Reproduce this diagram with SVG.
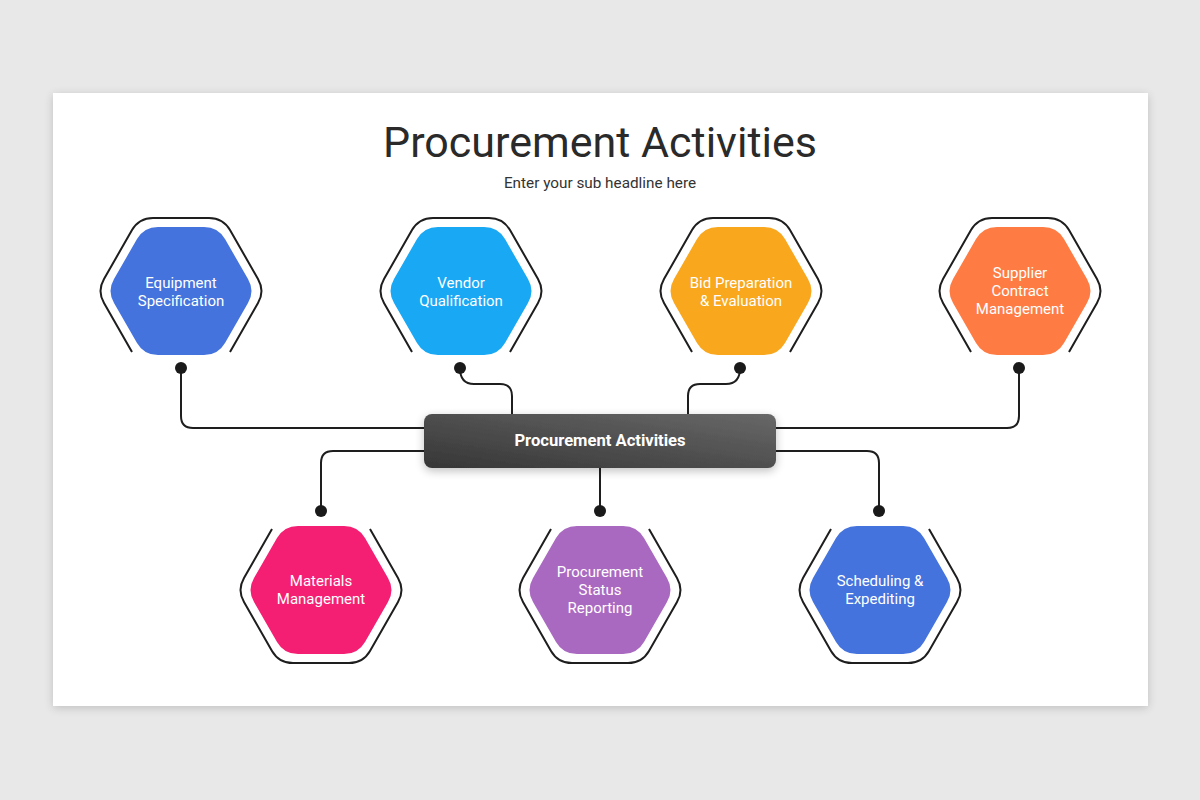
<svg xmlns="http://www.w3.org/2000/svg" width="1200" height="800" viewBox="0 0 1200 800">
  <defs>
    <filter id="cardShadow" x="-5%" y="-5%" width="110%" height="115%">
      <feGaussianBlur in="SourceAlpha" stdDeviation="5"/>
      <feOffset dy="2"/>
      <feComponentTransfer><feFuncA type="linear" slope="0.18"/></feComponentTransfer>
      <feMerge><feMergeNode/><feMergeNode in="SourceGraphic"/></feMerge>
    </filter>
    <filter id="boxShadow" x="-10%" y="-40%" width="120%" height="180%">
      <feGaussianBlur in="SourceAlpha" stdDeviation="5"/>
      <feOffset dy="3"/>
      <feComponentTransfer><feFuncA type="linear" slope="0.25"/></feComponentTransfer>
      <feMerge><feMergeNode/><feMergeNode in="SourceGraphic"/></feMerge>
    </filter>
    <linearGradient id="boxGrad" x1="0" y1="1" x2="1" y2="0">
      <stop offset="0" stop-color="#363636"/>
      <stop offset="1" stop-color="#686868"/>
    </linearGradient>
    <path id="hexFill" d="M -67 -12.1 L -44 -51.9 Q -37 -64 -23 -64 L 23 -64 Q 37 -64 44 -51.9 L 67 -12.1 Q 74 0 67 12.1 L 44 51.9 Q 37 64 23 64 L -23 64 Q -37 64 -44 51.9 L -67 12.1 Q -74 0 -67 -12.1 Z"/>
    <path id="hexTop" d="M -49 61 L -77 12.1 Q -84 0 -77 -12.1 L -49 -60.9 Q -42 -73 -28 -73 L 28 -73 Q 42 -73 49 -60.9 L 77 -12.1 Q 84 0 77 12.1 L 49 61"/>
    <path id="hexBot" d="M -49 -61 L -77 -12.1 Q -84 0 -77 12.1 L -49 60.9 Q -42 73 -28 73 L 28 73 Q 42 73 49 60.9 L 77 12.1 Q 84 0 77 -12.1 L 49 -61"/>
  </defs>
  <style>
    .outline { fill: none; stroke: #1e1e1e; stroke-width: 2; }
    .conn { fill: none; stroke: #1e1e1e; stroke-width: 2; }
    .dot { fill: #1a1a1a; }
    .lbl { font-family: Roboto, "Liberation Sans", sans-serif; font-size: 15px; fill: #ffffff; text-anchor: middle; }
    .title { font-family: Roboto, "Liberation Sans", sans-serif; font-size: 43px; fill: #2a2a2a; text-anchor: middle; }
    .sub { font-family: Roboto, "Liberation Sans", sans-serif; font-size: 15.3px; fill: #333333; text-anchor: middle; }
    .center { font-family: Roboto, "Liberation Sans", sans-serif; font-size: 16.6px; font-weight: bold; fill: #ffffff; text-anchor: middle; }
  </style>

  <rect x="0" y="0" width="1200" height="800" fill="#e9e8e9"/>
  <rect x="53" y="93" width="1095" height="613" fill="#ffffff" filter="url(#cardShadow)"/>

  <text class="title" x="600" y="157">Procurement Activities</text>
  <text class="sub" x="600" y="188">Enter your sub headline here</text>

  <g id="connectors">
    <path class="conn" d="M 181 368 L 181 416 Q 181 428 193 428 L 425 428"/>
    <path class="conn" d="M 460 368 Q 460 384 474 384 L 500 384 Q 512 384 512 396 L 512 414"/>
    <path class="conn" d="M 740 368 Q 740 384 726 384 L 700 384 Q 688 384 688 396 L 688 414"/>
    <path class="conn" d="M 1019 368 L 1019 416 Q 1019 428 1007 428 L 775 428"/>
    <path class="conn" d="M 425 451 L 333 451 Q 321 451 321 463 L 321 511"/>
    <path class="conn" d="M 600 467 L 600 511"/>
    <path class="conn" d="M 775 451 L 867 451 Q 879 451 879 463 L 879 511"/>
    <circle class="dot" cx="181" cy="368" r="6"/>
    <circle class="dot" cx="460" cy="368" r="6"/>
    <circle class="dot" cx="740" cy="368" r="6"/>
    <circle class="dot" cx="1019" cy="368" r="6"/>
    <circle class="dot" cx="321" cy="511" r="6"/>
    <circle class="dot" cx="600" cy="511" r="6"/>
    <circle class="dot" cx="879" cy="511" r="6"/>
  </g>

  <g id="center-node">
    <rect x="424" y="414" width="352" height="54" rx="8" fill="url(#boxGrad)" filter="url(#boxShadow)"/>
    <text class="center" x="600" y="446">Procurement Activities</text>
  </g>

  <g id="node-equipment" transform="translate(181,291)">
    <use href="#hexTop" class="outline"/>
    <use href="#hexFill" fill="#4473dd"/>
    <text class="lbl" x="0" y="-3">Equipment</text>
    <text class="lbl" x="0" y="15">Specification</text>
  </g>
  <g id="node-vendor" transform="translate(461,291)">
    <use href="#hexTop" class="outline"/>
    <use href="#hexFill" fill="#18a8f4"/>
    <text class="lbl" x="0" y="-3">Vendor</text>
    <text class="lbl" x="0" y="15">Qualification</text>
  </g>
  <g id="node-bid" transform="translate(741,291)">
    <use href="#hexTop" class="outline"/>
    <use href="#hexFill" fill="#f9a71d"/>
    <text class="lbl" x="0" y="-3">Bid Preparation</text>
    <text class="lbl" x="0" y="15">&amp; Evaluation</text>
  </g>
  <g id="node-supplier" transform="translate(1020,291)">
    <use href="#hexTop" class="outline"/>
    <use href="#hexFill" fill="#fe7c44"/>
    <text class="lbl" x="0" y="-13">Supplier</text>
    <text class="lbl" x="0" y="5">Contract</text>
    <text class="lbl" x="0" y="23">Management</text>
  </g>
  <g id="node-materials" transform="translate(321,590)">
    <use href="#hexBot" class="outline"/>
    <use href="#hexFill" fill="#f41f73"/>
    <text class="lbl" x="0" y="-4">Materials</text>
    <text class="lbl" x="0" y="14">Management</text>
  </g>
  <g id="node-status" transform="translate(600,590)">
    <use href="#hexBot" class="outline"/>
    <use href="#hexFill" fill="#a969c1"/>
    <text class="lbl" x="0" y="-13">Procurement</text>
    <text class="lbl" x="0" y="5">Status</text>
    <text class="lbl" x="0" y="23">Reporting</text>
  </g>
  <g id="node-scheduling" transform="translate(880,590)">
    <use href="#hexBot" class="outline"/>
    <use href="#hexFill" fill="#4473dd"/>
    <text class="lbl" x="0" y="-4">Scheduling &amp;</text>
    <text class="lbl" x="0" y="14">Expediting</text>
  </g>
</svg>
